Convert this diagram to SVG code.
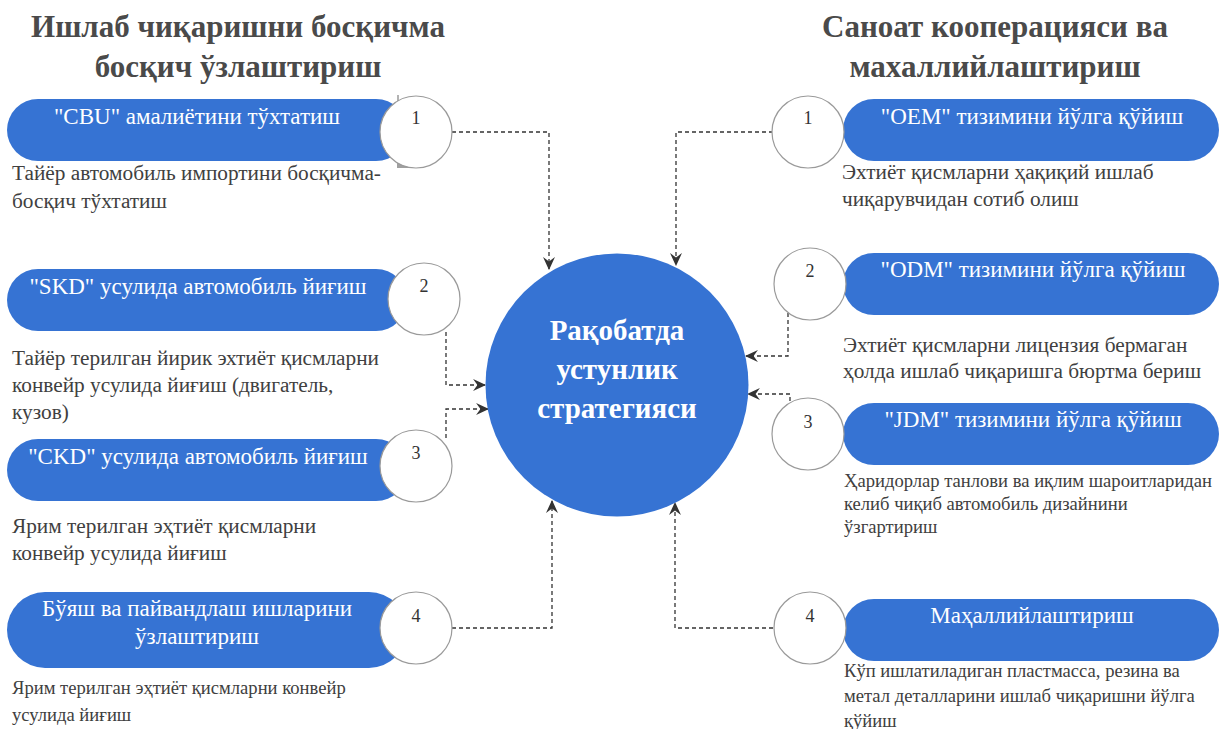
<svg xmlns="http://www.w3.org/2000/svg" width="1219" height="729" viewBox="0 0 1219 729">
<style>
.title{font-family:'Liberation Serif','Times New Roman',serif;font-weight:bold;font-size:31px;fill:#4a4a4a;text-anchor:middle}
.pill{fill:#3673d3}
.pt{font-family:'Liberation Serif','Times New Roman',serif;font-size:23px;fill:#ffffff;text-anchor:middle}
.num{fill:#ffffff;stroke:#9a9a9a;stroke-width:1.2}
.nt{font-family:'Liberation Serif','Times New Roman',serif;font-size:18px;fill:#333333;text-anchor:middle}
.d{font-family:'Liberation Serif','Times New Roman',serif;font-size:21.3px;fill:#404040}
.ds{font-family:'Liberation Serif','Times New Roman',serif;font-size:18.6px;fill:#404040}
.ct{font-family:'Liberation Serif','Times New Roman',serif;font-weight:bold;font-size:29px;fill:#ffffff;text-anchor:middle}
.c{fill:none;stroke:#333333;stroke-width:1.3;stroke-dasharray:4 3;marker-end:url(#ah)}
</style>
<defs>
<marker id="ah" viewBox="0 0 12 12" refX="11" refY="6" markerWidth="13" markerHeight="13" markerUnits="userSpaceOnUse" orient="auto">
<path d="M0,0.5 L12,6 L0,11.5 L4,6 z" fill="#333333"/>
</marker>
</defs>
<rect width="1219" height="729" fill="#ffffff"/>

<g id="title-left">
<text class="title" x="238" y="37">Ишлаб чиқаришни босқичма</text>
<text class="title" x="238" y="77">босқич ўзлаштириш</text>
</g>
<g id="title-right">
<text class="title" x="995" y="37">Саноат кооперацияси ва</text>
<text class="title" x="995" y="77">махаллийлаштириш</text>
</g>

<g id="connectors">
<path class="c" d="M452,132 H549 V269"/>
<path class="c" d="M446,332 V385 H485"/>
<path class="c" d="M446,438 V409 H488"/>
<path class="c" d="M452,628 H552 V501"/>
<path class="c" d="M773,132 H676 V265"/>
<path class="c" d="M788,313 V356 H746"/>
<path class="c" d="M790,401 V394 H748"/>
<path class="c" d="M773,628 H675 V503"/>
</g>

<g id="center">
<circle cx="617" cy="385" r="131.5" fill="#3673d3"/>
<text class="ct" x="617" y="340">Рақобатда</text>
<text class="ct" x="617" y="379">устунлик</text>
<text class="ct" x="617" y="418">стратегияси</text>
</g>

<g id="left-1">
<rect class="pill" x="7" y="99" width="400" height="62" rx="31"/>
<text class="pt" x="197" y="124">"CBU" амалиётини тўхтатиш</text>
<path d="M398,95 V102" stroke="#9a9a9a" stroke-width="1.5"/>
<polygon points="397,158 397,168 414,168" fill="#a0a0a0"/>
<circle class="num" cx="416" cy="132" r="36"/>
<text class="nt" x="416" y="124">1</text>
<text class="d" x="12" y="180">Тайёр автомобиль импортини босқичма-</text>
<text class="d" x="12" y="208">босқич тўхтатиш</text>
</g>

<g id="left-2">
<rect class="pill" x="7" y="269" width="400" height="62" rx="31"/>
<text class="pt" x="198" y="294">"SKD" усулида автомобиль йиғиш</text>
<circle class="num" cx="424" cy="299" r="36"/>
<text class="nt" x="424" y="292">2</text>
<text class="d" x="12" y="365">Тайёр терилган йирик эхтиёт қисмларни</text>
<text class="d" x="12" y="392">конвейр усулида йиғиш (двигатель,</text>
<text class="d" x="12" y="419">кузов)</text>
</g>

<g id="left-3">
<rect class="pill" x="7" y="439" width="400" height="62" rx="31"/>
<text class="pt" x="198" y="464">"CKD" усулида автомобиль йиғиш</text>
<circle class="num" cx="416" cy="466" r="36"/>
<text class="nt" x="416" y="459">3</text>
<text class="d" x="12" y="533">Ярим терилган эҳтиёт қисмларни</text>
<text class="d" x="12" y="560">конвейр усулида йиғиш</text>
</g>

<g id="left-4">
<rect class="pill" x="7" y="592" width="400" height="76" rx="38"/>
<text class="pt" x="197" y="616">Бўяш ва пайвандлаш ишларини</text>
<text class="pt" x="197" y="644">ўзлаштириш</text>
<circle class="num" cx="416" cy="628" r="36"/>
<text class="nt" x="416" y="622">4</text>
<text class="ds" x="12" y="694">Ярим терилган эҳтиёт қисмларни конвейр</text>
<text class="ds" x="12" y="721">усулида йиғиш</text>
</g>

<g id="right-1">
<rect class="pill" x="843" y="99" width="376" height="62" rx="31"/>
<text class="pt" x="1032" y="124">"OEM" тизимини йўлга қўйиш</text>
<circle class="num" cx="808" cy="132" r="36"/>
<text class="nt" x="808" y="124">1</text>
<text class="d" x="842" y="179">Эхтиёт қисмларни ҳақиқий ишлаб</text>
<text class="d" x="842" y="206">чиқарувчидан сотиб олиш</text>
</g>

<g id="right-2">
<rect class="pill" x="843" y="253" width="376" height="62" rx="31"/>
<text class="pt" x="1033" y="277">"ODM" тизимини йўлга қўйиш</text>
<circle class="num" cx="810" cy="284" r="36"/>
<text class="nt" x="810" y="277">2</text>
<text class="d" x="843" y="352">Эхтиёт қисмларни лицензия бермаган</text>
<text class="d" x="843" y="378">ҳолда ишлаб чиқаришга бюртма бериш</text>
</g>

<g id="right-3">
<rect class="pill" x="843" y="403" width="376" height="62" rx="31"/>
<text class="pt" x="1033" y="427">"JDM" тизимини йўлга қўйиш</text>
<circle class="num" cx="808" cy="434" r="36"/>
<text class="nt" x="808" y="428">3</text>
<text class="ds" x="844" y="487">Ҳаридорлар танлови ва иқлим шароитларидан</text>
<text class="ds" x="844" y="510">келиб чиқиб автомобиль дизайнини</text>
<text class="ds" x="844" y="533">ўзгартириш</text>
</g>

<g id="right-4">
<rect class="pill" x="843" y="599" width="376" height="62" rx="31"/>
<text class="pt" x="1032" y="623">Маҳаллийлаштириш</text>
<circle class="num" cx="810" cy="628" r="36"/>
<text class="nt" x="810" y="622">4</text>
<text class="ds" x="844" y="677">Кўп ишлатиладиган пластмасса, резина ва</text>
<text class="ds" x="844" y="702">метал деталларини ишлаб чиқаришни йўлга</text>
<text class="ds" x="844" y="727">қўйиш</text>
</g>
</svg>
